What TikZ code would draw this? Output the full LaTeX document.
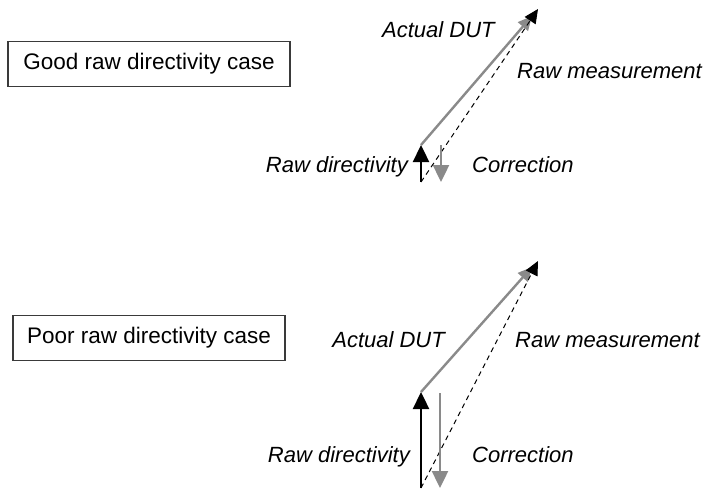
\documentclass[tikz,border=0pt]{standalone}
\usepackage{fontspec}
\setmainfont{Liberation Sans}
\usepackage{xcolor}
\usepackage{tikz}
\usetikzlibrary{arrows.meta, positioning}
\definecolor{rdInk}{HTML}{000000}
\definecolor{rdGrey}{HTML}{8A8A8A}
\definecolor{rdFrame}{HTML}{3A3A3A}
\tikzset{
  rd-case/.style={
    rectangle, draw=rdFrame, line width=1.1pt, fill=white,
    minimum height=45pt, inner sep=0pt, align=center,
    font=\fontsize{22.5}{26}\selectfont
  },
  rd-label/.style={inner sep=0pt, font=\fontsize{22}{26}\selectfont\itshape},
  rd-dir/.style={-{Triangle[length=17pt,width=16pt]}, line width=2.4pt, draw=rdInk},
  rd-corr/.style={-{Triangle[length=17pt,width=16pt]}, line width=2.4pt, draw=rdGrey},
  rd-dut/.style={-{Triangle[length=14pt,width=13pt]}, line width=2.4pt, draw=rdGrey},
  rd-meas/.style={-{Triangle[length=14pt,width=13pt]}, line width=1pt,
    dash pattern=on 5pt off 4pt, draw=rdInk},
}

\begin{document}
\begin{tikzpicture}[x=1pt, y=-1pt]
  \useasboundingbox (0,0) rectangle (708,493);

  % good case
  \node[rd-case, minimum width=282pt] (good) at (149,64) {Good raw directivity case};
  \coordinate (o1) at (421,182);
  \coordinate (d1) at (421,145);
  \coordinate (u1) at (532,16);
  \coordinate (m1) at (538,9);
  \coordinate (c1s) at (441,145);
  \coordinate (c1e) at (441,182);
  \draw[rd-dut] (d1) -- (u1);
  \draw[rd-meas] (o1) -- (m1);
  \draw[rd-dir] (o1) -- (d1);
  \draw[rd-corr] (c1s) -- (c1e);
  \node[rd-label, anchor=base west] (dut1) at (382,37) {Actual DUT};
  \node[rd-label, anchor=base west] (meas1) at (517,78) {Raw measurement};
  \node[rd-label, anchor=base east] (dir1) at (408,172) {Raw directivity};
  \node[rd-label, anchor=base west] (corr1) at (472,172) {Correction};

  % poor case
  \node[rd-case, minimum width=272pt] (poor) at (149,338) {Poor raw directivity case};
  \coordinate (o2) at (421,488);
  \coordinate (d2) at (421,392);
  \coordinate (u2) at (532,267);
  \coordinate (m2) at (538,261);
  \coordinate (c2s) at (440,393);
  \coordinate (c2e) at (440,488);
  \draw[rd-dut] (d2) -- (u2);
  \draw[rd-meas] (o2) -- (m2);
  \draw[rd-dir] (o2) -- (d2);
  \draw[rd-corr] (c2s) -- (c2e);
  \node[rd-label, anchor=base east] (dut2) at (445,347) {Actual DUT};
  \node[rd-label, anchor=base west] (meas2) at (515,347) {Raw measurement};
  \node[rd-label, anchor=base east] (dir2) at (410,462) {Raw directivity};
  \node[rd-label, anchor=base west] (corr2) at (472,462) {Correction};
\end{tikzpicture}
\end{document}
